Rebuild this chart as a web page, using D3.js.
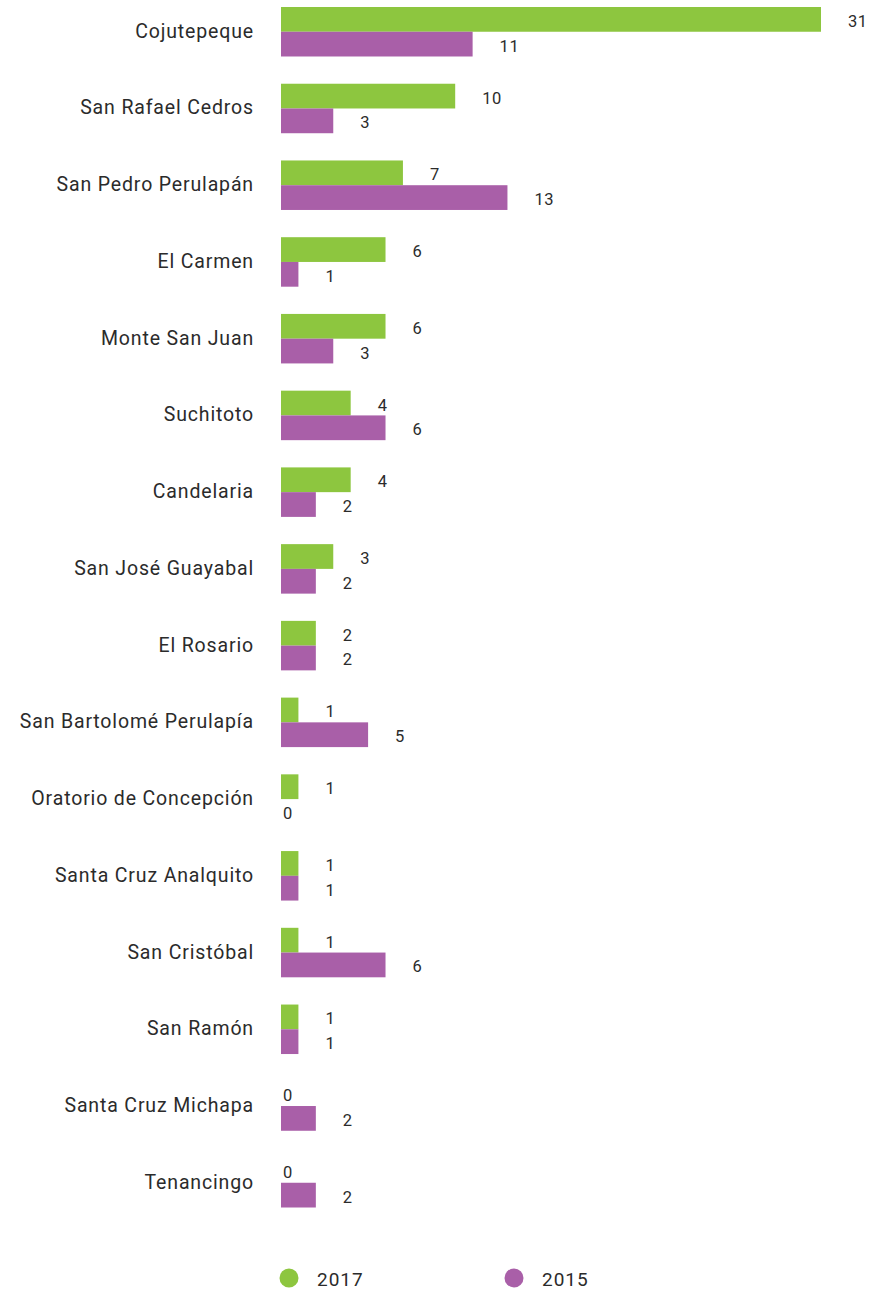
<!DOCTYPE html>
<html>
<head>
<meta charset="utf-8">
<script src="https://cdn.jsdelivr.net/npm/d3@7"></script>
<style>
  html, body { margin: 0; padding: 0; background: #fff; }
  svg { display: block; }
  text { font-family: Roboto, "Open Sans", sans-serif; fill: #2b2b2b; }
</style>
</head>
<body>
<svg id="chart" width="884" height="1290"></svg>
<script>
const categories = [
  "Cojutepeque", "San Rafael Cedros", "San Pedro Perulapán", "El Carmen",
  "Monte San Juan", "Suchitoto", "Candelaria", "San José Guayabal",
  "El Rosario", "San Bartolomé Perulapía", "Oratorio de Concepción",
  "Santa Cruz Analquito", "San Cristóbal", "San Ramón",
  "Santa Cruz Michapa", "Tenancingo"
];
const values2017 = [31, 10, 7, 6, 6, 4, 4, 3, 2, 1, 1, 1, 1, 1, 0, 0];
const values2015 = [11, 3, 13, 1, 3, 6, 2, 2, 2, 5, 0, 1, 6, 1, 2, 2];
const seriesNames = ["2017", "2015"];
const seriesColors = ["#8dc63f", "#a95fa8"];

const svg = d3.select("#chart");

const x = d3.scaleLinear().domain([0, 31]).range([281, 821]);
const y = d3.scaleBand().domain(categories).range([7, 1207.5])
  .paddingInner(0.355).paddingOuter(0);
const ySub = d3.scaleBand().domain(seriesNames).range([0, y.bandwidth()]);
const color = d3.scaleOrdinal().domain(seriesNames).range(seriesColors);

const rows = categories.map((c, i) => ({
  cat: c,
  vals: [
    { s: "2017", v: values2017[i] },
    { s: "2015", v: values2015[i] }
  ]
}));

const g = svg.append("g");

const groups = g.selectAll("g.row").data(rows).join("g")
  .attr("class", "row")
  .attr("transform", d => `translate(0,${y(d.cat)})`);

groups.append("text")
  .attr("x", 254)
  .attr("y", y.bandwidth() / 2 - 0.5)
  .attr("text-anchor", "end")
  .attr("dominant-baseline", "central")
  .style("font-size", "19.5px")
  .style("letter-spacing", "0.85px")
  .text(d => d.cat);

groups.selectAll("rect").data(d => d.vals).join("rect")
  .attr("x", x(0))
  .attr("y", d => ySub(d.s))
  .attr("width", d => x(d.v) - x(0))
  .attr("height", ySub.bandwidth())
  .attr("fill", d => color(d.s));

groups.selectAll("text.val").data(d => d.vals).join("text")
  .attr("class", "val")
  .attr("x", d => d.v === 0 ? x(0) + 2 : x(d.v) + 27)
  .attr("y", d => ySub(d.s) + ySub.bandwidth() / 2 + 2)
  .attr("dominant-baseline", "central")
  .style("font-size", "16.5px")
  .style("letter-spacing", "0.5px")
  .text(d => d.v);

// legend
const legendX = [289, 514];
const legend = svg.append("g").selectAll("g").data(seriesNames).join("g")
  .attr("transform", (d, i) => `translate(${legendX[i]},1278)`);
legend.append("circle").attr("r", 9.5).attr("fill", d => color(d));
legend.append("text")
  .attr("x", 28)
  .attr("y", 1)
  .attr("dominant-baseline", "central")
  .style("font-size", "19px")
  .style("letter-spacing", "1px")
  .text(d => d);
</script>
</body>
</html>
